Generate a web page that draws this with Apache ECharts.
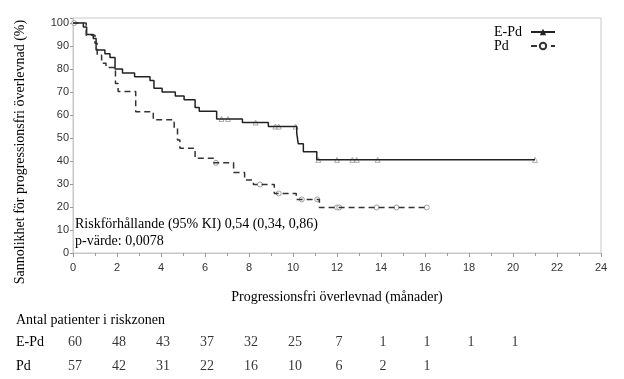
<!DOCTYPE html>
<html>
<head>
<meta charset="utf-8">
<script src="https://cdn.jsdelivr.net/npm/echarts@6/dist/echarts.min.js"></script>
<style>html,body{margin:0;padding:0;background:#fff}#c{width:624px;height:379px}</style>
</head>
<body>
<div id="c"></div>
<script>
// ---- data ----
const xTicks = [0, 2, 4, 6, 8, 10, 12, 14, 16, 18, 20, 22, 24];
const yTicks = [0, 10, 20, 30, 40, 50, 60, 70, 80, 90, 100];

const epdTime = [0, 0.47, 0.62, 0.92, 1.05, 1.45, 1.68, 1.91, 2.25, 2.8, 3.5, 3.68, 4.05, 4.65, 5.05, 5.55, 5.74, 6.53, 7.7, 8.88, 10.17, 10.24, 10.47, 11.08, 21.0];
const epdSurv = [100, 98.3, 95.0, 93.3, 88.3, 86.7, 85.0, 80.0, 78.3, 76.7, 75.0, 71.7, 70.0, 68.3, 66.7, 63.3, 61.7, 58.3, 56.7, 55.0, 52.0, 47.5, 44.0, 40.5, 40.5];
const epdCensor = [6.75, 7.05, 8.3, 9.2, 9.35, 10.12, 11.15, 12.0, 12.7, 12.9, 13.85, 21.0];

const pdTime = [0, 0.6, 1.0, 1.1, 1.3, 1.5, 1.93, 2.05, 2.85, 3.65, 4.6, 4.75, 4.86, 5.55, 6.4, 7.3, 7.8, 8.2, 9.15, 10.15, 11.2, 16.08];
const pdSurv = [100, 94.7, 91.2, 86.0, 82.5, 80.7, 73.7, 70.2, 61.4, 57.9, 54.4, 49.1, 45.6, 41.2, 39.2, 35.0, 31.7, 29.8, 25.9, 23.3, 19.8, 19.8];
const pdCensor = [0.05, 6.5, 8.5, 9.35, 10.4, 11.1, 12.0, 12.1, 13.8, 14.7, 16.08];

const riskMonths = [0, 2, 4, 6, 8, 10, 12, 14, 16, 18, 20];
const riskEPd = [60, 48, 43, 37, 32, 25, 7, 1, 1, 1, 1];
const riskPd = [57, 42, 31, 22, 16, 10, 6, 2, 1];
const groups = ['E-Pd', 'Pd'];

const texts = {
  yTitle: 'Sannolikhet för progressionsfri överlevnad (%)',
  xTitle: 'Progressionsfri överlevnad (månader)',
  riskHeader: 'Antal patienter i riskzonen',
  hr: 'Riskförhållande (95% KI) 0,54 (0,34, 0,86)',
  p: 'p-värde: 0,0078'
};

// ---- helpers ----
function stepAt(T, S, t) {
  let v = S[0];
  for (let i = 0; i < T.length; i++) { if (T[i] <= t) v = S[i]; }
  return v;
}
const zip = (a, b) => a.map((v, i) => [v, b[i]]);

const serif = '"Liberation Serif", "Times New Roman", serif';
const sans = '"Liberation Sans", Arial, sans-serif';

const chart = echarts.init(document.getElementById('c'), null, { renderer: 'canvas' });
chart.setOption({
  animation: false,
  backgroundColor: '#fff',
  grid: [
    { left: 73, right: 23, top: 18, bottom: 126, show: true, borderColor: '#c8c8c8', borderWidth: 1, containLabel: false },
    { left: 73, right: 23, top: 330, height: 48, show: false }
  ],
  legend: {
    data: groups,
    orient: 'vertical',
    align: 'right',
    right: 63,
    top: 20,
    itemWidth: 24,
    itemHeight: 8,
    itemGap: 0,
    formatter: name => '{a|' + name + '}',
    textStyle: {
      fontFamily: serif, fontSize: 14, color: '#000', lineHeight: 14,
      rich: { a: { width: 32, align: 'left', fontFamily: serif, fontSize: 14, color: '#000', lineHeight: 14 } }
    },
    selectedMode: false
  },
  xAxis: [
    {
      gridIndex: 0, type: 'value', min: 0, max: 24, interval: 2,
      name: texts.xTitle, nameLocation: 'middle', nameGap: 37,
      nameTextStyle: { fontFamily: serif, fontSize: 14, color: '#000' },
      axisLine: { show: true, lineStyle: { color: '#c8c8c8' } },
      axisTick: { show: true, length: 4, lineStyle: { color: '#999' } },
      minorTick: { show: true, splitNumber: 2, length: 3, lineStyle: { color: '#999' } },
      splitLine: { show: false },
      axisLabel: { margin: 9, fontFamily: sans, fontSize: 11, color: '#333',
        formatter: v => xTicks.includes(v) ? String(v) : '' }
    },
    { gridIndex: 1, type: 'value', min: 0, max: 24, show: false }
  ],
  yAxis: [
    {
      gridIndex: 0, type: 'value', min: 0, max: 102.2, interval: 10,
      axisLine: { show: true, lineStyle: { color: '#c8c8c8' } },
      axisTick: { show: true, length: 3, lineStyle: { color: '#999' } },
      splitLine: { show: false },
      axisLabel: { margin: 4, fontFamily: sans, fontSize: 11, color: '#333',
        formatter: v => yTicks.includes(v) ? String(v) : '' }
    },
    {
      gridIndex: 1, type: 'category', data: groups, inverse: true,
      axisLine: { show: false }, axisTick: { show: false },
      axisLabel: { align: 'left', margin: 57, fontFamily: serif, fontSize: 14, color: '#000' }
    }
  ],
  series: [
    {
      name: 'E-Pd', type: 'line', xAxisIndex: 0, yAxisIndex: 0, step: 'end',
      data: zip(epdTime, epdSurv), showSymbol: false, symbol: 'triangle', symbolSize: 5,
      lineStyle: { color: '#222', width: 1.5 }, itemStyle: { color: '#222' }
    },
    {
      name: 'Pd', type: 'line', xAxisIndex: 0, yAxisIndex: 0, step: 'end',
      data: zip(pdTime, pdSurv), showSymbol: false, symbol: 'emptyCircle', symbolSize: 5,
      lineStyle: { color: '#333', width: 1.5, type: [6, 4] }, itemStyle: { color: '#333' }
    },
    {
      name: 'E-Pd censur', type: 'scatter', xAxisIndex: 0, yAxisIndex: 0,
      data: epdCensor.map(t => [t, stepAt(epdTime, epdSurv, t)]),
      symbol: 'triangle', symbolSize: 5,
      itemStyle: { color: '#fff', borderColor: '#999', borderWidth: 1 }, silent: true
    },
    {
      name: 'Pd censur', type: 'scatter', xAxisIndex: 0, yAxisIndex: 0,
      data: pdCensor.map(t => [t, stepAt(pdTime, pdSurv, t)]),
      symbol: 'circle', symbolSize: 5,
      itemStyle: { color: '#fff', borderColor: '#888', borderWidth: 1 }, silent: true
    },
    {
      name: 'risk E-Pd', type: 'scatter', xAxisIndex: 1, yAxisIndex: 1,
      data: riskEPd.map((v, i) => [riskMonths[i], groups[0], v]),
      symbolSize: 1, itemStyle: { color: 'rgba(0,0,0,0)' }, silent: true,
      label: { show: true, position: 'inside', offset: [2, 0], formatter: p => String(p.value[2]),
        fontFamily: serif, fontSize: 14, color: '#000' }
    },
    {
      name: 'risk Pd', type: 'scatter', xAxisIndex: 1, yAxisIndex: 1,
      data: riskPd.map((v, i) => [riskMonths[i], groups[1], v]),
      symbolSize: 1, itemStyle: { color: 'rgba(0,0,0,0)' }, silent: true,
      label: { show: true, position: 'inside', offset: [2, 0], formatter: p => String(p.value[2]),
        fontFamily: serif, fontSize: 14, color: '#000' }
    }
  ],
  graphic: [
    { type: 'text', x: 20, y: 152, rotation: Math.PI / 2,
      style: { text: texts.yTitle, align: 'center', verticalAlign: 'middle', font: '14px ' + serif, fill: '#000' } },
    { type: 'text', x: 16, y: 320,
      style: { text: texts.riskHeader, align: 'left', verticalAlign: 'middle', font: '14px ' + serif, fill: '#000' } },
    { type: 'text', x: 75, y: 224,
      style: { text: texts.hr, align: 'left', verticalAlign: 'middle', font: '14px ' + serif, fill: '#000' } },
    { type: 'text', x: 75, y: 241,
      style: { text: texts.p, align: 'left', verticalAlign: 'middle', font: '14px ' + serif, fill: '#000' } }
  ]
});
</script>
</body>
</html>
